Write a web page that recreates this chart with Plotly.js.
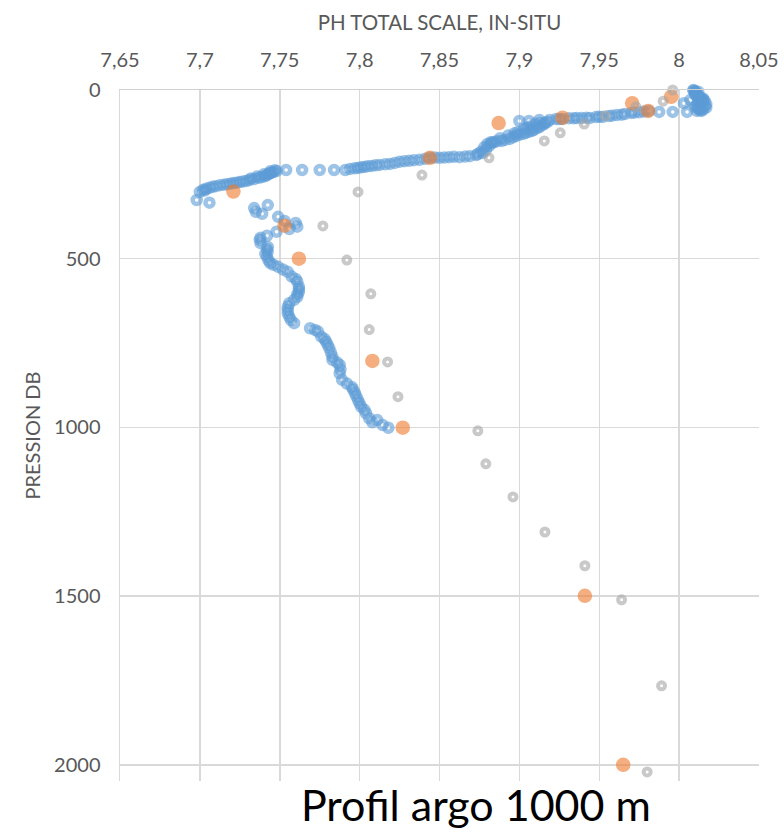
<!DOCTYPE html>
<html>
<head>
<meta charset="utf-8">
<script src="https://cdn.plot.ly/plotly-3.0.1.min.js"></script>
<style>html,body{margin:0;padding:0;background:#fff;}#chart{width:784px;height:832px;}</style>
</head>
<body>
<div id="chart"></div>
<script>
// Argo float continuous profile (blue)
const argoPH = [
  // surface layer 0-62 dbar
  8.009, 8.009, 8.010, 8.010, 8.010, 8.011, 8.011, 8.010, 8.011, 8.012,
  8.012, 8.013, 8.013, 8.014, 8.014, 8.015, 8.016, 8.015, 8.014, 8.013,
  8.012, 8.003, 8.011, 8.010, 8.012, 8.015, 8.013, 8.014, 8.017, 8.016,
  8.008, 8.012, 8.015, 8.017, 8.007, 8.013,
  // 62-92 dbar
  8.011, 8.005, 7.996, 7.9875, 7.981, 7.975, 7.970, 7.966, 7.961, 7.956,
  7.952, 7.948, 7.944, 7.939, 7.936, 7.931, 7.927, 7.923, 7.919, 7.9125,
  7.906, 7.900, 7.978, 7.972, 7.964, 7.958, 7.950, 7.942, 7.934, 7.925,
  // 95-200 dbar dense band
  7.9175, 7.9156, 7.9125, 7.909, 7.906, 7.9025, 7.898, 7.894, 7.889, 7.884,
  7.916, 7.914, 7.911, 7.908, 7.904, 7.900, 7.896, 7.891, 7.886, 7.882,
  7.910, 7.907, 7.903, 7.899, 7.893, 7.913, 7.905, 7.897, 7.888,
  7.883, 7.881, 7.879, 7.877, 7.873, 7.880, 7.878, 7.876, 7.874,
  // 196-237 dbar
  7.869, 7.8625, 7.856, 7.850, 7.844, 7.8375, 7.831, 7.825, 7.819, 7.8125,
  7.8075, 7.803, 7.799, 7.794, 7.866, 7.859, 7.853, 7.847, 7.841, 7.834,
  7.828, 7.822, 7.816, 7.810, 7.805, 7.801, 7.797,
  7.791, 7.784, 7.775, 7.764, 7.754,
  // 240-335 dbar
  7.748, 7.746, 7.744, 7.742, 7.739, 7.734, 7.729, 7.725, 7.721, 7.717,
  7.7125, 7.708, 7.704, 7.702, 7.700, 7.698, 7.706,
  7.745, 7.743, 7.741, 7.737, 7.731, 7.727, 7.723, 7.719, 7.715, 7.710,
  7.706, 7.703, 7.747, 7.744, 7.740, 7.736, 7.732,
  // 340-1000 dbar
  7.7425, 7.734, 7.735, 7.739, 7.749, 7.753, 7.760, 7.761, 7.756, 7.748,
  7.742, 7.7375, 7.738, 7.7425, 7.7425, 7.742, 7.744, 7.749, 7.755, 7.7575,
  7.761, 7.762, 7.762, 7.761, 7.756, 7.755, 7.756, 7.759, 7.769, 7.774,
  7.776, 7.779, 7.781, 7.783, 7.783, 7.7875, 7.7875, 7.789, 7.795, 7.797,
  7.799, 7.801, 7.804, 7.806, 7.811, 7.8144, 7.818,
  7.738, 7.742, 7.741, 7.743, 7.746, 7.752, 7.760, 7.762, 7.761, 7.759,
  7.755, 7.755, 7.757, 7.772, 7.778, 7.780, 7.782, 7.786, 7.788, 7.792,
  7.796, 7.798, 7.800, 7.803, 7.808
];
const argoP = [
  0, 2, 4, 6, 8, 10, 12, 14, 16, 18,
  20, 22, 24, 26, 28, 30, 32, 34, 36, 38,
  40, 39, 45, 50, 55, 58, 60, 62, 42, 48,
  -3, 5, 25, 52, 30, 56,
  62, 65, 65, 65, 62, 66, 68, 71, 74, 77,
  80, 80, 83, 83, 83, 84, 86, 86, 89, 89,
  92, 92, 64, 67, 73, 76, 79, 82, 84, 86,
  95, 101, 110, 118, 124, 130, 136, 145, 151, 154,
  97, 105, 113, 121, 127, 133, 140, 148, 152, 155,
  100, 108, 115, 125, 135, 98, 112, 128, 143,
  157, 166, 178, 187, 193, 160, 170, 183, 190,
  196, 199, 199, 201, 201, 207, 210, 213, 219, 222,
  225, 228, 231, 234, 197, 198, 200, 200, 204, 208,
  211, 216, 220, 223, 226, 229, 232,
  237, 237, 237, 237, 237,
  240, 243, 246, 252, 258, 264, 270, 273, 276, 279,
  282, 287, 293, 296, 302, 326, 334,
  245, 249, 255, 260, 267, 271, 275, 278, 281, 285,
  290, 298, 238, 241, 250, 256, 262,
  341, 350, 361, 367, 376, 388, 394, 405, 412, 420,
  432, 444, 454, 465, 479, 494, 513, 524, 539, 553,
  568, 583, 598, 613, 632, 652, 672, 691, 706, 716,
  731, 746, 765, 790, 800, 815, 840, 859, 880, 898,
  919, 939, 958, 973, 978, 993, 1001,
  438, 472, 486, 505, 518, 532, 560, 590, 605, 622,
  642, 662, 682, 711, 738, 755, 778, 808, 828, 870,
  888, 908, 929, 948, 985
];

// Discrete samples (orange)
const bottlePH = [7.995, 7.9706, 7.9806, 7.927, 7.887, 7.844, 7.721, 7.753, 7.762, 7.808, 7.827, 7.941, 7.965];
const bottleP  = [20, 39, 62, 82, 98, 201, 301, 402, 500, 803, 1001, 1499, 2000];

// Reference profile (grey)
const refPH = [7.996, 7.990, 7.973, 7.9537, 7.9406, 7.9256, 7.9156, 7.881, 7.839, 7.799,
               7.777, 7.792, 7.807, 7.806, 7.8175, 7.824, 7.874, 7.879, 7.896, 7.916,
               7.941, 7.964, 7.989, 7.980];
const refP  = [0, 33, 50, 76, 101, 127, 151, 201, 252, 302,
               403, 504, 604, 710, 806, 909, 1010, 1108, 1206, 1310,
               1410, 1511, 1766, 2021];

const xTickVals = [7.65, 7.7, 7.75, 7.8, 7.85, 7.9, 7.95, 8, 8.05];
const xTickText = ['7,65', '7,7', '7,75', '7,8', '7,85', '7,9', '7,95', '8', '8,05'];
const yTickVals = [0, 500, 1000, 1500, 2000];
const yTickText = ['0', '500', '1000', '1500', '2000'];

const FONT = 'Lato, "Open Sans", sans-serif';
const GREY_TXT = '#595959';

const traces = [
  {
    x: argoPH, y: argoP, type: 'scatter', mode: 'markers', name: 'Argo',
    marker: {symbol: 'circle-open', size: 8, color: 'rgba(91,155,213,0.6)', line: {width: 4.5, color: 'rgba(91,155,213,0.6)'}},
    hoverinfo: 'x+y', cliponaxis: false
  },
  {
    x: bottlePH, y: bottleP, type: 'scatter', mode: 'markers', name: 'Bouteilles',
    marker: {symbol: 'circle', size: 14.5, color: 'rgba(237,125,49,0.62)', line: {width: 0}},
    hoverinfo: 'x+y', cliponaxis: false
  },
  {
    x: refPH, y: refP, type: 'scatter', mode: 'markers', name: 'Référence',
    marker: {symbol: 'circle-open', size: 7, color: 'rgba(165,165,165,0.6)', line: {width: 4, color: 'rgba(165,165,165,0.6)'}},
    hoverinfo: 'x+y', cliponaxis: false
  }
];

const layout = {
  width: 784, height: 832,
  margin: {l: 120, r: 25, t: 90, b: 51, pad: 0},
  paper_bgcolor: '#ffffff', plot_bgcolor: '#ffffff',
  showlegend: false,
  font: {family: FONT, color: GREY_TXT},
  title: {
    text: 'Profil argo 1000 m',
    font: {family: FONT, size: 43, color: '#000000'},
    x: 0.607, xanchor: 'center', xref: 'container',
    y: 0.031, yanchor: 'middle', yref: 'container'
  },
  xaxis: {
    side: 'top', range: [7.65, 8.05],
    tickvals: xTickVals, ticktext: xTickText,
    tickfont: {family: FONT, size: 20, color: GREY_TXT},
    ticks: '', ticklabelstandoff: 14,
    showgrid: true, gridcolor: '#d9d9d9', gridwidth: 1.5,
    showline: true, linecolor: '#d0d0d0', linewidth: 1.5,
    zeroline: false,
    title: {text: 'PH TOTAL SCALE, IN-SITU', font: {family: FONT, size: 20.5, color: GREY_TXT}, standoff: 10}
  },
  yaxis: {
    range: [2048, 0],
    tickvals: yTickVals, ticktext: yTickText,
    tickfont: {family: FONT, size: 20, color: GREY_TXT},
    ticks: '', ticklabelstandoff: 14,
    showgrid: true, gridcolor: '#d9d9d9', gridwidth: 1.5,
    showline: true, linecolor: '#d9d9d9', linewidth: 1.5,
    zeroline: false,
    title: {text: 'PRESSION DB', font: {family: FONT, size: 20, color: GREY_TXT}, standoff: 8}
  }
};

Plotly.newPlot('chart', traces, layout, {displayModeBar: false, staticPlot: true});
</script>
</body>
</html>
